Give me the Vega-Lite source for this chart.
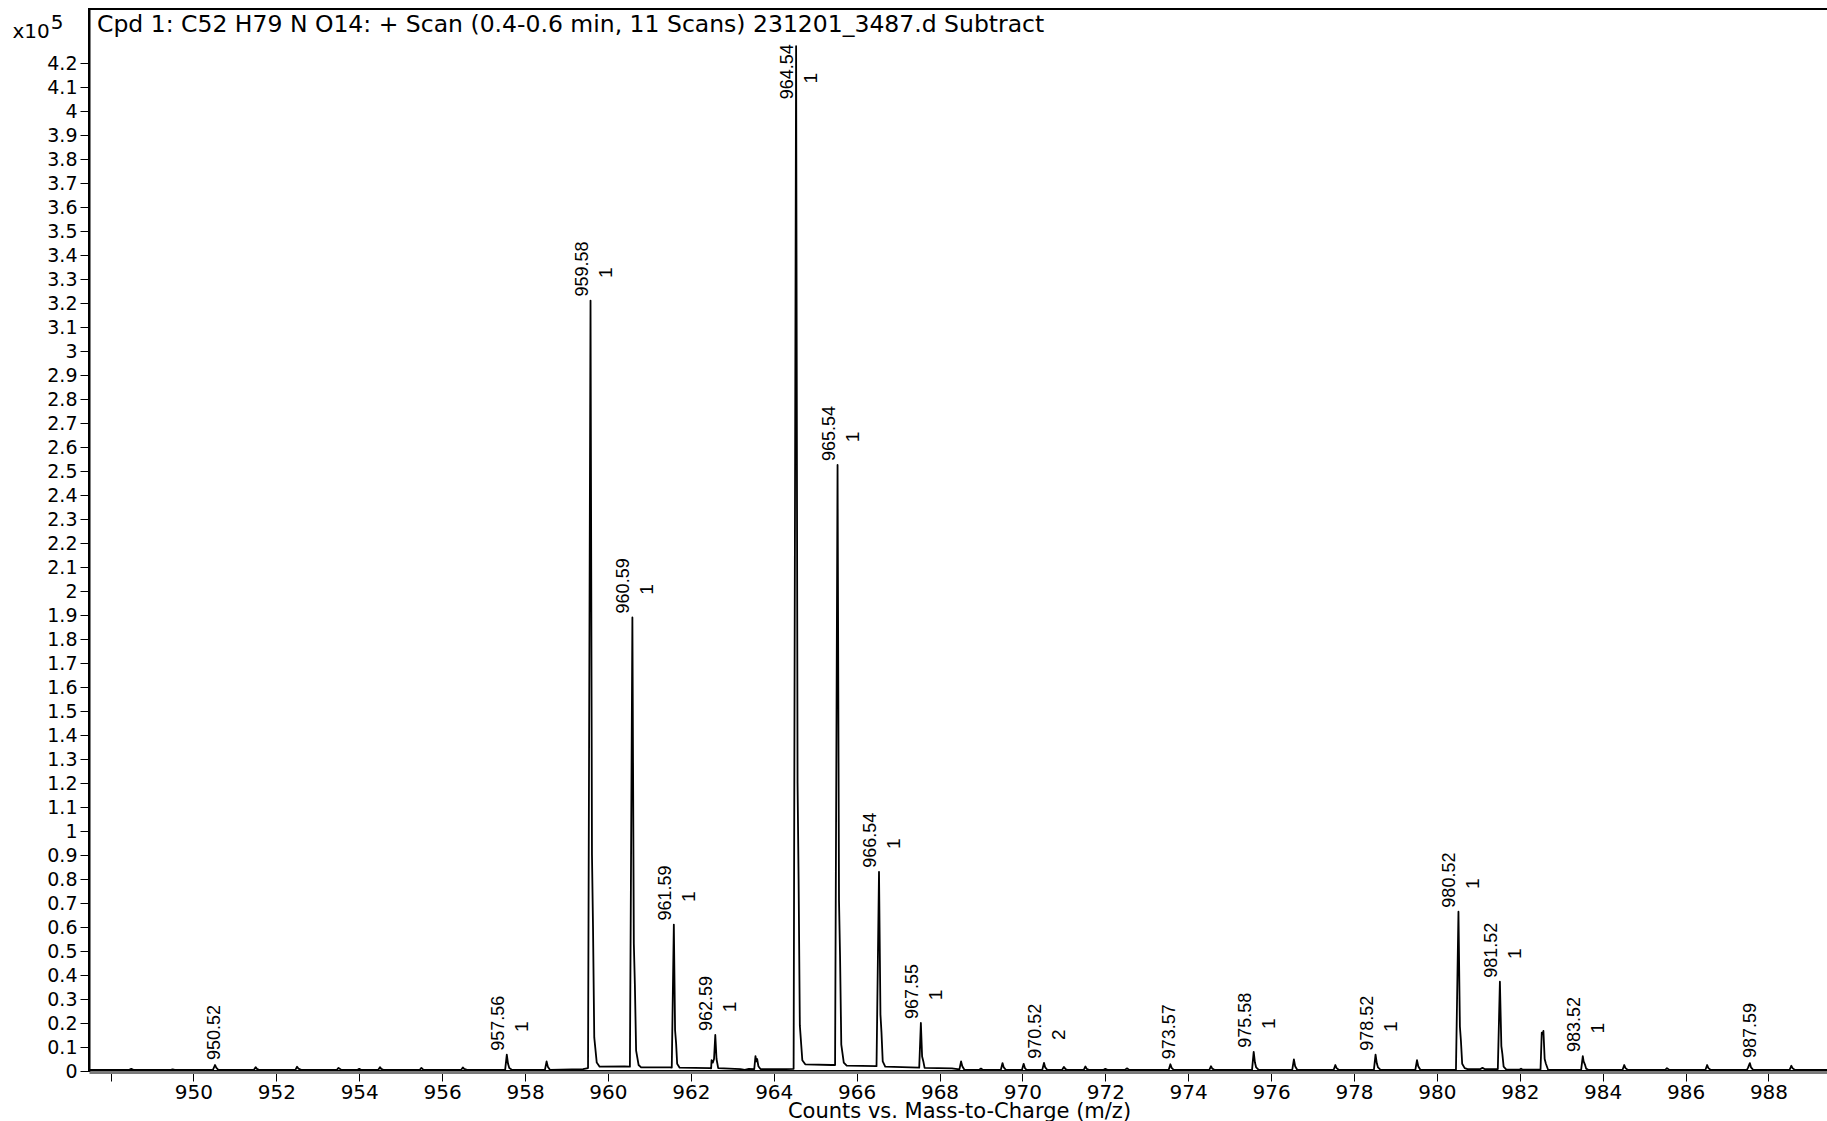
{
  "$schema": "https://vega.github.io/schema/vega-lite/v6.json",
  "autosize": {"type": "none"},
  "padding": {"left": 89, "top": 9, "right": 0, "bottom": 50},
  "width": 1740,
  "height": 1062,
  "background": "white",
  "title": {
    "text": "Cpd 1: C52 H79 N O14: + Scan (0.4-0.6 min, 11 Scans) 231201_3487.d  Subtract",
    "anchor": "start",
    "frame": "group",
    "orient": "top",
    "offset": -46,
    "baseline": "alphabetic",
    "dx": 8,
    "font": "DejaVu Sans",
    "fontSize": 23.5,
    "fontWeight": "normal",
    "color": "black"
  },
  "config": {
    "view": {"stroke": "black", "strokeWidth": 2},
    "axis": {"grid": false}
  },
  "datasets": {
    "spectrum": [
      {"mz": 947.48, "counts": 500},
      {"mz": 948.45, "counts": 500}, {"mz": 948.5, "counts": 900}, {"mz": 948.55, "counts": 500},
      {"mz": 949.45, "counts": 500}, {"mz": 949.5, "counts": 700}, {"mz": 949.55, "counts": 500},
      {"mz": 950.47, "counts": 500}, {"mz": 950.52, "counts": 2500}, {"mz": 950.55, "counts": 1400}, {"mz": 950.6, "counts": 500},
      {"mz": 951.46, "counts": 500}, {"mz": 951.5, "counts": 1600}, {"mz": 951.53, "counts": 900}, {"mz": 951.58, "counts": 500},
      {"mz": 952.46, "counts": 500}, {"mz": 952.5, "counts": 1800}, {"mz": 952.53, "counts": 1000}, {"mz": 952.6, "counts": 500},
      {"mz": 953.46, "counts": 500}, {"mz": 953.5, "counts": 1300}, {"mz": 953.56, "counts": 500},
      {"mz": 953.96, "counts": 500}, {"mz": 954.0, "counts": 900}, {"mz": 954.04, "counts": 500},
      {"mz": 954.46, "counts": 500}, {"mz": 954.5, "counts": 1600}, {"mz": 954.53, "counts": 900}, {"mz": 954.58, "counts": 500},
      {"mz": 955.46, "counts": 500}, {"mz": 955.5, "counts": 1300}, {"mz": 955.55, "counts": 500},
      {"mz": 956.46, "counts": 500}, {"mz": 956.5, "counts": 1500}, {"mz": 956.53, "counts": 900}, {"mz": 956.6, "counts": 500},
      {"mz": 957.52, "counts": 500}, {"mz": 957.56, "counts": 6800}, {"mz": 957.59, "counts": 3000}, {"mz": 957.62, "counts": 1200}, {"mz": 957.68, "counts": 500},
      {"mz": 958.48, "counts": 500}, {"mz": 958.52, "counts": 4000}, {"mz": 958.55, "counts": 1800}, {"mz": 958.6, "counts": 500},
      {"mz": 959.4, "counts": 800}, {"mz": 959.52, "counts": 1200}, {"mz": 959.58, "counts": 321000}, {"mz": 959.615, "counts": 90000}, {"mz": 959.64, "counts": 60000}, {"mz": 959.67, "counts": 14000}, {"mz": 959.73, "counts": 3500}, {"mz": 959.8, "counts": 1800},
      {"mz": 960.4, "counts": 1900}, {"mz": 960.53, "counts": 1800}, {"mz": 960.59, "counts": 189000}, {"mz": 960.625, "counts": 53000}, {"mz": 960.65, "counts": 36000}, {"mz": 960.68, "counts": 8500}, {"mz": 960.74, "counts": 2500}, {"mz": 960.8, "counts": 1500},
      {"mz": 961.5, "counts": 1500}, {"mz": 961.54, "counts": 1400}, {"mz": 961.59, "counts": 61000}, {"mz": 961.62, "counts": 17000}, {"mz": 961.645, "counts": 11500}, {"mz": 961.67, "counts": 3000}, {"mz": 961.73, "counts": 1400},
      {"mz": 962.46, "counts": 1200}, {"mz": 962.49, "counts": 1100}, {"mz": 962.5, "counts": 4500}, {"mz": 962.53, "counts": 3500}, {"mz": 962.56, "counts": 5000}, {"mz": 962.59, "counts": 15000}, {"mz": 962.62, "counts": 5000}, {"mz": 962.66, "counts": 1200},
      {"mz": 963.2, "counts": 800}, {"mz": 963.3, "counts": 500}, {"mz": 963.4, "counts": 900}, {"mz": 963.53, "counts": 800}, {"mz": 963.56, "counts": 6200}, {"mz": 963.58, "counts": 4000}, {"mz": 963.6, "counts": 5000}, {"mz": 963.63, "counts": 2000}, {"mz": 963.68, "counts": 800},
      {"mz": 964.3, "counts": 800}, {"mz": 964.48, "counts": 900}, {"mz": 964.54, "counts": 427000}, {"mz": 964.575, "counts": 120000}, {"mz": 964.6, "counts": 80000}, {"mz": 964.63, "counts": 19000}, {"mz": 964.69, "counts": 4500}, {"mz": 964.76, "counts": 2800},
      {"mz": 965.4, "counts": 2500}, {"mz": 965.48, "counts": 2500}, {"mz": 965.54, "counts": 252500}, {"mz": 965.575, "counts": 71000}, {"mz": 965.6, "counts": 48000}, {"mz": 965.63, "counts": 11000}, {"mz": 965.69, "counts": 3500}, {"mz": 965.76, "counts": 2200},
      {"mz": 966.48, "counts": 2000}, {"mz": 966.54, "counts": 83000}, {"mz": 966.575, "counts": 23500}, {"mz": 966.6, "counts": 16000}, {"mz": 966.63, "counts": 4000}, {"mz": 966.69, "counts": 1800},
      {"mz": 967.51, "counts": 1400}, {"mz": 967.55, "counts": 20000}, {"mz": 967.58, "counts": 6000}, {"mz": 967.61, "counts": 4000}, {"mz": 967.64, "counts": 1300},
      {"mz": 968.3, "counts": 1100}, {"mz": 968.48, "counts": 700}, {"mz": 968.52, "counts": 4000}, {"mz": 968.55, "counts": 2000}, {"mz": 968.6, "counts": 500},
      {"mz": 968.96, "counts": 500}, {"mz": 969.0, "counts": 1000}, {"mz": 969.04, "counts": 500},
      {"mz": 969.48, "counts": 500}, {"mz": 969.52, "counts": 3300}, {"mz": 969.55, "counts": 1500}, {"mz": 969.6, "counts": 500},
      {"mz": 969.99, "counts": 500}, {"mz": 970.03, "counts": 3000}, {"mz": 970.06, "counts": 1200}, {"mz": 970.1, "counts": 500},
      {"mz": 970.48, "counts": 500}, {"mz": 970.52, "counts": 3400}, {"mz": 970.55, "counts": 1500}, {"mz": 970.6, "counts": 500},
      {"mz": 970.96, "counts": 500}, {"mz": 971.0, "counts": 1700}, {"mz": 971.04, "counts": 800}, {"mz": 971.08, "counts": 500},
      {"mz": 971.48, "counts": 500}, {"mz": 971.52, "counts": 1900}, {"mz": 971.55, "counts": 900}, {"mz": 971.6, "counts": 500},
      {"mz": 971.96, "counts": 500}, {"mz": 972.0, "counts": 900}, {"mz": 972.05, "counts": 500},
      {"mz": 972.48, "counts": 500}, {"mz": 972.52, "counts": 1100}, {"mz": 972.57, "counts": 500},
      {"mz": 973.53, "counts": 500}, {"mz": 973.57, "counts": 2800}, {"mz": 973.6, "counts": 1300}, {"mz": 973.65, "counts": 500},
      {"mz": 974.51, "counts": 500}, {"mz": 974.55, "counts": 2000}, {"mz": 974.58, "counts": 1000}, {"mz": 974.63, "counts": 500},
      {"mz": 975.54, "counts": 500}, {"mz": 975.58, "counts": 8000}, {"mz": 975.61, "counts": 3500}, {"mz": 975.64, "counts": 1500}, {"mz": 975.7, "counts": 500},
      {"mz": 976.51, "counts": 500}, {"mz": 976.55, "counts": 4800}, {"mz": 976.58, "counts": 2000}, {"mz": 976.63, "counts": 500},
      {"mz": 977.51, "counts": 500}, {"mz": 977.55, "counts": 2500}, {"mz": 977.58, "counts": 1200}, {"mz": 977.63, "counts": 500},
      {"mz": 978.48, "counts": 500}, {"mz": 978.52, "counts": 6800}, {"mz": 978.55, "counts": 3200}, {"mz": 978.58, "counts": 1500}, {"mz": 978.64, "counts": 500},
      {"mz": 979.48, "counts": 500}, {"mz": 979.52, "counts": 4500}, {"mz": 979.55, "counts": 2000}, {"mz": 979.6, "counts": 500},
      {"mz": 980.46, "counts": 500}, {"mz": 980.52, "counts": 66400}, {"mz": 980.555, "counts": 18500}, {"mz": 980.58, "counts": 12500}, {"mz": 980.61, "counts": 3000}, {"mz": 980.67, "counts": 1200}, {"mz": 980.74, "counts": 800},
      {"mz": 981.05, "counts": 800}, {"mz": 981.1, "counts": 1300}, {"mz": 981.15, "counts": 800},
      {"mz": 981.47, "counts": 800}, {"mz": 981.52, "counts": 37200}, {"mz": 981.555, "counts": 10400}, {"mz": 981.58, "counts": 7000}, {"mz": 981.61, "counts": 1800}, {"mz": 981.67, "counts": 700},
      {"mz": 982.0, "counts": 600}, {"mz": 982.03, "counts": 1000}, {"mz": 982.06, "counts": 600},
      {"mz": 982.5, "counts": 600}, {"mz": 982.53, "counts": 16000}, {"mz": 982.55, "counts": 15500}, {"mz": 982.57, "counts": 16700}, {"mz": 982.6, "counts": 5000}, {"mz": 982.63, "counts": 3000}, {"mz": 982.68, "counts": 600},
      {"mz": 983.48, "counts": 500}, {"mz": 983.52, "counts": 6200}, {"mz": 983.54, "counts": 4000}, {"mz": 983.57, "counts": 2800}, {"mz": 983.6, "counts": 1000}, {"mz": 983.65, "counts": 500},
      {"mz": 984.48, "counts": 500}, {"mz": 984.52, "counts": 2500}, {"mz": 984.55, "counts": 1200}, {"mz": 984.6, "counts": 500},
      {"mz": 985.51, "counts": 500}, {"mz": 985.55, "counts": 1200}, {"mz": 985.6, "counts": 500},
      {"mz": 986.48, "counts": 500}, {"mz": 986.52, "counts": 2500}, {"mz": 986.55, "counts": 1200}, {"mz": 986.6, "counts": 500},
      {"mz": 987.48, "counts": 500}, {"mz": 987.51, "counts": 1500}, {"mz": 987.55, "counts": 3300}, {"mz": 987.58, "counts": 1500}, {"mz": 987.63, "counts": 500},
      {"mz": 988.51, "counts": 500}, {"mz": 988.55, "counts": 2200}, {"mz": 988.58, "counts": 1200}, {"mz": 988.63, "counts": 500},
      {"mz": 989.46, "counts": 500}
    ],
    "labels": [
      {"mz": 950.52, "counts": 2500, "label": "950.52", "charge": ""},
      {"mz": 957.56, "counts": 6800, "label": "957.56", "charge": "1"},
      {"mz": 959.58, "counts": 321000, "label": "959.58", "charge": "1"},
      {"mz": 960.59, "counts": 189000, "label": "960.59", "charge": "1"},
      {"mz": 961.59, "counts": 61000, "label": "961.59", "charge": "1"},
      {"mz": 962.59, "counts": 15000, "label": "962.59", "charge": "1"},
      {"mz": 964.54, "counts": 427000, "label": "964.54", "charge": "1"},
      {"mz": 965.54, "counts": 252500, "label": "965.54", "charge": "1"},
      {"mz": 966.54, "counts": 83000, "label": "966.54", "charge": "1"},
      {"mz": 967.55, "counts": 20000, "label": "967.55", "charge": "1"},
      {"mz": 970.52, "counts": 3400, "label": "970.52", "charge": "2"},
      {"mz": 973.57, "counts": 2800, "label": "973.57", "charge": ""},
      {"mz": 975.58, "counts": 8000, "label": "975.58", "charge": "1"},
      {"mz": 978.52, "counts": 6800, "label": "978.52", "charge": "1"},
      {"mz": 980.52, "counts": 66400, "label": "980.52", "charge": "1"},
      {"mz": 981.52, "counts": 37200, "label": "981.52", "charge": "1"},
      {"mz": 983.52, "counts": 6200, "label": "983.52", "charge": "1"},
      {"mz": 987.59, "counts": 3300, "label": "987.59", "charge": ""}
    ]
  },
  "encoding": {
    "x": {
      "field": "mz",
      "type": "quantitative",
      "scale": {"domain": [947.48, 989.46], "nice": false, "zero": false},
      "axis": {
        "title": "Counts vs. Mass-to-Charge (m/z)",
        "values": [948, 950, 952, 954, 956, 958, 960, 962, 964, 966, 968, 970, 972, 974, 976, 978, 980, 982, 984, 986, 988],
        "labelExpr": "datum.value == 948 ? '' : format(datum.value, 'd')",
        "domainColor": "#7a7a7a",
        "domainWidth": 3,
        "offset": 1,
        "tickColor": "black",
        "tickSize": 9,
        "tickWidth": 1,
        "labelFont": "DejaVu Sans",
        "labelFontSize": 20,
        "labelColor": "black",
        "labelPadding": 1,
        "labelFlush": false,
        "labelOverlap": false,
        "titleFont": "DejaVu Sans",
        "titleFontSize": 21,
        "titleFontWeight": "normal",
        "titleColor": "black",
        "titlePadding": -2
      }
    },
    "y": {
      "field": "counts",
      "type": "quantitative",
      "scale": {"domain": [0, 442500], "nice": false},
      "axis": {
        "title": ["\u200b\u2007\u2007\u20075", "x10"],
        "titleLineHeight": 9,
        "titleAngle": 0,
        "titleAlign": "left",
        "titleBaseline": "alphabetic",
        "titleX": -77,
        "titleY": 19,
        "titleFont": "DejaVu Sans",
        "titleFontSize": 20,
        "titleFontWeight": "normal",
        "titleColor": "black",
        "values": [0, 10000, 20000, 30000, 40000, 50000, 60000, 70000, 80000, 90000, 100000, 110000, 120000, 130000, 140000, 150000, 160000, 170000, 180000, 190000, 200000, 210000, 220000, 230000, 240000, 250000, 260000, 270000, 280000, 290000, 300000, 310000, 320000, 330000, 340000, 350000, 360000, 370000, 380000, 390000, 400000, 410000, 420000],
        "labelExpr": "format(datum.value / 100000, '.2~f')",
        "labelFont": "DejaVu Sans",
        "labelFontSize": 19,
        "labelColor": "black",
        "labelPadding": 3,
        "labelOverlap": false,
        "labelFlush": false,
        "tickColor": "black",
        "tickSize": 9,
        "domainColor": "black",
        "domainWidth": 2
      }
    }
  },
  "layer": [
    {
      "data": {"name": "spectrum"},
      "mark": {"type": "line", "color": "black", "strokeWidth": 1.8, "strokeJoin": "round", "clip": true},
      "encoding": {}
    },
    {
      "data": {"name": "labels"},
      "transform": [{"filter": "datum.charge != '' && datum.mz != 964.54"}],
      "mark": {"type": "text", "angle": 270, "align": "left", "baseline": "alphabetic", "dx": 4, "dy": -3, "font": "Liberation Sans", "fontSize": 18, "color": "black"},
      "encoding": {"text": {"field": "label"}}
    },
    {
      "data": {"name": "labels"},
      "transform": [{"filter": "datum.charge != '' && datum.mz != 964.54"}],
      "mark": {"type": "text", "angle": 270, "align": "center", "baseline": "middle", "dx": 28, "dy": 15, "font": "Liberation Sans", "fontSize": 19, "color": "black"},
      "encoding": {"text": {"field": "charge"}}
    },
    {
      "data": {"name": "labels"},
      "transform": [{"filter": "datum.charge == ''"}],
      "mark": {"type": "text", "angle": 270, "align": "left", "baseline": "middle", "dx": 5, "font": "Liberation Sans", "fontSize": 18, "color": "black"},
      "encoding": {"text": {"field": "label"}}
    },
    {
      "data": {"name": "labels"},
      "transform": [{"filter": "datum.mz == 964.54"}],
      "mark": {"type": "text", "angle": 270, "align": "left", "baseline": "alphabetic", "dx": -53, "dy": -3, "font": "Liberation Sans", "fontSize": 18, "color": "black"},
      "encoding": {"text": {"field": "label"}}
    },
    {
      "data": {"name": "labels"},
      "transform": [{"filter": "datum.mz == 964.54"}],
      "mark": {"type": "text", "angle": 270, "align": "center", "baseline": "middle", "dx": -32, "dy": 15, "font": "Liberation Sans", "fontSize": 19, "color": "black"},
      "encoding": {"text": {"field": "charge"}}
    }
  ]
}
